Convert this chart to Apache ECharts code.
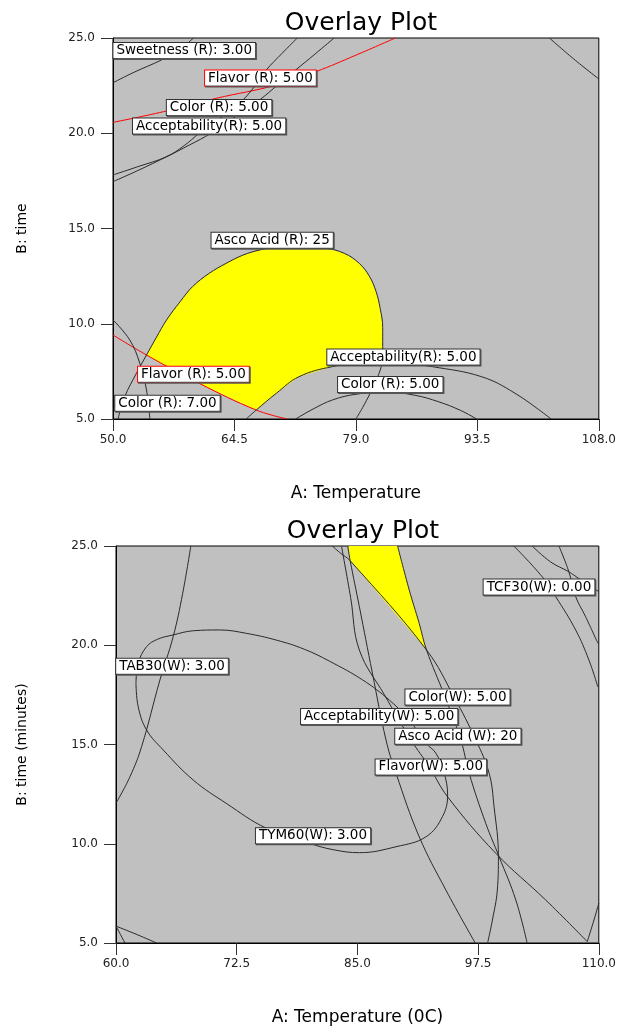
<!DOCTYPE html>
<html lang="en">
<head>
<meta charset="UTF-8">
<title>Overlay Plot</title>
<script src="https://cdn.jsdelivr.net/npm/echarts@6.0.0/dist/echarts.min.js"></script>
<style>
  html, body { margin: 0; padding: 0; background: #fff; }
  #chart { width: 619px; height: 1029px; }
</style>
</head>
<body>
<div id="chart"></div>
<script>
// ticks
var topXTicks = [50.0, 64.5, 79.0, 93.5, 108.0];
var botXTicks = [60.0, 72.5, 85.0, 97.5, 110.0];
var yTicks = [5, 10, 15, 20, 25];

// ---- upper plot: contour lines [temperature, time]
var topSweetness = [[50,22.65],[52.5,23.2],[55.8,23.85],[58,24.4],[59.6,25]];
var topFlavorHigh = [[50,20.57],[56,21.13],[62.3,21.83],[69.5,22.53],[74.2,23.23],[79,24.1],[83.7,25]];
var topColorHigh = [[50,17.81],[53,18.25],[56.4,18.77],[58.5,19.35],[60.3,20.0],[62.8,20.8],[65.1,21.57],[66.8,22.4],[68.3,23.32],[70.2,24.2],[72.0,25]];
var topAcceptHigh = [[50,17.46],[53,18.05],[56.4,18.77],[59.2,19.4],[61.7,20.0],[64.7,20.9],[67.5,21.75],[69.7,22.55],[71.8,23.32],[74.1,24.15],[76.4,25]];
var topCorner = [[102.1,25],[105,23.9],[108,22.85]];
var topFlavorLow = [[50,9.41],[54,8.36],[60.3,6.87],[67.1,5.47],[70.8,5.0]];
var topAsco = [[50.6,5.0],[51.4,6.17],[52.8,7.4],[54.0,8.36],[55.2,9.3],[56.4,10.2],[58,11.15],[59.5,11.95],[61.5,12.65],[63.5,13.17],[65.5,13.6],[67.5,13.87],[69.5,14.0],[73,14.02],[75.3,13.97],[77.6,13.7],[79.4,13.17],[80.6,12.5],[81.4,11.7],[81.9,10.8],[82.2,9.8],[82.2,8.8],[82.1,7.95],[81.5,7.1],[80.7,6.35],[79.8,5.6],[79.0,5.0]];
var topColor7 = [[50,10.2],[52,9.15],[53.2,7.92],[54.0,6.52],[54.4,5.0]];
var topAcceptLow = [[65.9,5.0],[67.1,5.47],[69.5,6.35],[72.2,7.22],[76.2,7.75],[80,7.93],[82.1,7.95],[85,7.9],[88.1,7.75],[94,7.22],[98,6.35],[102.3,5.0]];
var topColorLow = [[71.8,5.0],[74,5.55],[76.2,6.0],[79,6.3],[82.5,6.42],[86,6.25],[88.9,5.9],[91.5,5.45],[93.4,5.0]];
var topYellow = [[54.0,8.36],[55.2,9.3],[56.4,10.2],[58,11.15],[59.5,11.95],[61.5,12.65],[63.5,13.17],[65.5,13.6],[67.5,13.87],[69.5,14.0],[73,14.02],[75.3,13.97],[77.6,13.7],[79.4,13.17],[80.6,12.5],[81.4,11.7],[81.9,10.8],[82.2,9.8],[82.2,8.8],[82.1,7.95],[80,7.93],[76.2,7.75],[72.2,7.22],[69.5,6.35],[67.1,5.47],[63.7,6.17],[60.3,6.87],[57.1,7.6]];

var topLabelText = ['Sweetness (R): 3.00','Flavor (R): 5.00','Color (R): 5.00','Acceptability(R): 5.00','Asco Acid (R): 25','Flavor (R): 5.00','Color (R): 7.00','Acceptability(R): 5.00','Color (R): 5.00'];
var topLabelX = [58.5, 67.6, 62.66, 61.47, 69.0, 59.6, 56.5, 84.67, 83.1];
var topLabelY = [24.35, 22.9, 21.35, 20.38, 14.38, 7.35, 5.83, 8.25, 6.81];
var topLabelRed = [false, true, false, false, false, true, false, false, false];

// ---- lower plot
var botLineA = [[67.75,25],[66.9,22.6],[65.92,20.43],[64.55,18.25],[62.65,14.89],[61.45,13.38],[60,12.04]];
var botEllipse = [[62.07,18.08],[62.3,19.09],[63.17,19.93],[64.3,20.3],[65.92,20.52],[68,20.73],[70.74,20.77],[73.5,20.6],[76.6,20.26],[79.5,19.8],[82.1,19.2],[85.55,18.25],[88.3,17.24],[90.37,16.23],[92.1,15.06],[93.13,14.56],[93.99,13.55],[94.34,12.46],[93.8,11.36],[92.1,10.35],[89.0,9.85],[85.2,9.55],[82.5,9.7],[80.04,10.02],[75.57,10.78],[71.4,12.04],[68.0,13.21],[64.9,14.72],[63.17,15.73],[62.3,16.9],[62.07,18.08]];
var botV1 = [[60,5.85],[60.93,5.0]];
var botV2 = [[60,5.85],[62.2,5.42],[64.2,5.0]];
var botS1 = [[84.0,25],[84.25,24.26],[85.2,21.95],[86.55,18.6],[87.96,15.23],[89.0,13.55],[91.4,10.35],[94.16,7.67],[97.26,4.95]];
var botS2 = [[83.35,25],[84.3,22.4],[85.2,19.76],[87.8,17.5],[90.55,15.23],[92.44,13.88],[94.33,12.37],[99.33,9.52],[104.49,7.17],[108.8,5.07]];
var botD1 = [[82.4,25],[83.3,24.62],[84.25,24.26],[92.16,19.76],[95.0,17.4],[97.26,15.23],[98.64,13.55],[99.15,11.87],[99.6,9.35],[99.49,7.67],[98.98,6.16],[98.46,4.95]];
var botR = [[89.16,25],[90.37,22.78],[91.4,21.1],[92.16,19.76],[93.99,17.5],[95.71,15.23],[96.57,13.55],[98.29,11.03],[99.67,9.35],[101.4,7.17],[102.6,4.95]];
var botT1 = [[101.2,25],[104.14,23.45],[105.53,22.45],[107.6,20.77],[108.97,19.26],[109.9,17.9]];
var botT2 = [[103.1,25],[105.0,24.2],[106.9,23.7],[107.9,23.37],[110,22.7]];
var botT3 = [[105.87,25],[106.9,23.7],[107.6,22.45],[108.63,21.44],[109.9,20.1]];
var botCorner = [[110,7.0],[109.4,6.0],[108.8,5.07]];
var botYellow = [[84.07,25],[89.16,25],[90.37,22.78],[91.4,21.1],[92.16,19.76],[84.25,24.26]];

var botLabelText = ['TCF30(W): 0.00','TAB30(W): 3.00','Color(W): 5.00','Acceptability(W): 5.00','Asco Acid (W): 20','Flavor(W): 5.00','TYM60(W): 3.00'];
var botLabelX = [103.8, 65.8, 95.36, 87.25, 95.4, 92.6, 80.4];
var botLabelY = [22.93, 18.94, 17.39, 16.41, 15.42, 13.87, 10.4];

var FONT = 'DejaVu Sans';

function contour(data, g, color) {
    return {
        type: 'line', xAxisIndex: g, yAxisIndex: g, data: data,
        smooth: 0.4, symbol: 'none', silent: true, z: 3,
        lineStyle: { color: color || '#2a2a2a', width: 1 }
    };
}

function region(points, g) {
    return {
        type: 'custom', xAxisIndex: g, yAxisIndex: g, data: [points[0]], silent: true, z: 2,
        renderItem: function (params, api) {
            return {
                type: 'polygon',
                shape: { points: points.map(function (p) { return api.coord(p); }) },
                style: { fill: '#ffff00' }
            };
        }
    };
}

function labels(xs, ys, texts, red, g) {
    return {
        type: 'scatter', xAxisIndex: g, yAxisIndex: g, symbolSize: 0, silent: true, z: 6,
        itemStyle: { color: '#ffffff', opacity: 1 },
        data: xs.map(function (x, i) {
            return { value: [x, ys[i]], label: { borderColor: red && red[i] ? '#ff0000' : '#303030' } };
        }),
        label: {
            show: true, position: 'inside', opacity: 1,
            formatter: function (p) { return texts[p.dataIndex]; },
            fontFamily: FONT, fontSize: 13.5, color: '#000', lineHeight: 14,
            backgroundColor: '#ffffff', borderWidth: 1, padding: [1, 3, 0, 3],
            shadowColor: '#555', shadowOffsetX: 1, shadowOffsetY: 1, shadowBlur: 0
        }
    };
}

function xAxisOf(g, ticks, name, gap) {
    return {
        type: 'value', gridIndex: g, min: ticks[0], max: ticks[ticks.length - 1],
        splitLine: { show: false },
        axisLine: { lineStyle: { color: '#000', width: 1 } },
        axisTick: { customValues: ticks, length: 12, lineStyle: { color: '#333' } },
        axisLabel: { customValues: ticks, margin: 15, fontSize: 12, color: '#222',
            formatter: function (v) { return v.toFixed(1); } },
        name: name, nameLocation: 'middle', nameGap: gap,
        nameTextStyle: { fontSize: 17, color: '#000' }
    };
}

function yAxisOf(g, name, gap) {
    return {
        type: 'value', gridIndex: g, min: 5, max: 25, interval: 5,
        splitLine: { show: false },
        axisLine: { lineStyle: { color: '#000', width: 1 } },
        axisTick: { length: 12, lineStyle: { color: '#333' } },
        axisLabel: { margin: 18, fontSize: 12, color: '#222',
            formatter: function (v) { return v.toFixed(1); } },
        name: name, nameLocation: 'middle', nameGap: gap, nameRotate: 90,
        nameTextStyle: { fontSize: 14, color: '#000' }
    };
}

var chart = echarts.init(document.getElementById('chart'));
chart.setOption({
    animation: false,
    textStyle: { fontFamily: FONT },
    title: [
        { text: 'Overlay Plot', left: 356, top: 6, textAlign: 'center',
          textStyle: { fontSize: 25, fontWeight: 'normal', color: '#000', fontFamily: FONT } },
        { text: 'Overlay Plot', left: 358, top: 514, textAlign: 'center',
          textStyle: { fontSize: 25, fontWeight: 'normal', color: '#000', fontFamily: FONT } }
    ],
    grid: [
        { left: 113, top: 38, width: 488, height: 381, show: true,
          backgroundColor: '#c0c0c0', borderColor: '#000', borderWidth: 1 },
        { left: 116, top: 546, width: 484, height: 397, show: true,
          backgroundColor: '#c0c0c0', borderColor: '#000', borderWidth: 1 }
    ],
    xAxis: [
        xAxisOf(0, topXTicks, 'A: Temperature', 66),
        xAxisOf(1, botXTicks, 'A: Temperature (0C)', 66)
    ],
    yAxis: [
        yAxisOf(0, 'B: time', 84),
        yAxisOf(1, 'B: time (minutes)', 87)
    ],
    series: [
        region(topYellow, 0),
        contour(topSweetness, 0),
        contour(topFlavorHigh, 0, '#ff0000'),
        contour(topColorHigh, 0),
        contour(topAcceptHigh, 0),
        contour(topCorner, 0),
        contour(topFlavorLow, 0, '#ff0000'),
        contour(topAsco, 0),
        contour(topColor7, 0),
        contour(topAcceptLow, 0),
        contour(topColorLow, 0),
        labels(topLabelX, topLabelY, topLabelText, topLabelRed, 0),

        region(botYellow, 1),
        contour(botLineA, 1),
        contour(botEllipse, 1),
        contour(botV1, 1),
        contour(botV2, 1),
        contour(botS1, 1),
        contour(botS2, 1),
        contour(botD1, 1),
        contour(botR, 1),
        contour(botT1, 1),
        contour(botT2, 1),
        contour(botT3, 1),
        contour(botCorner, 1),
        labels(botLabelX, botLabelY, botLabelText, null, 1)
    ]
});
</script>
</body>
</html>
